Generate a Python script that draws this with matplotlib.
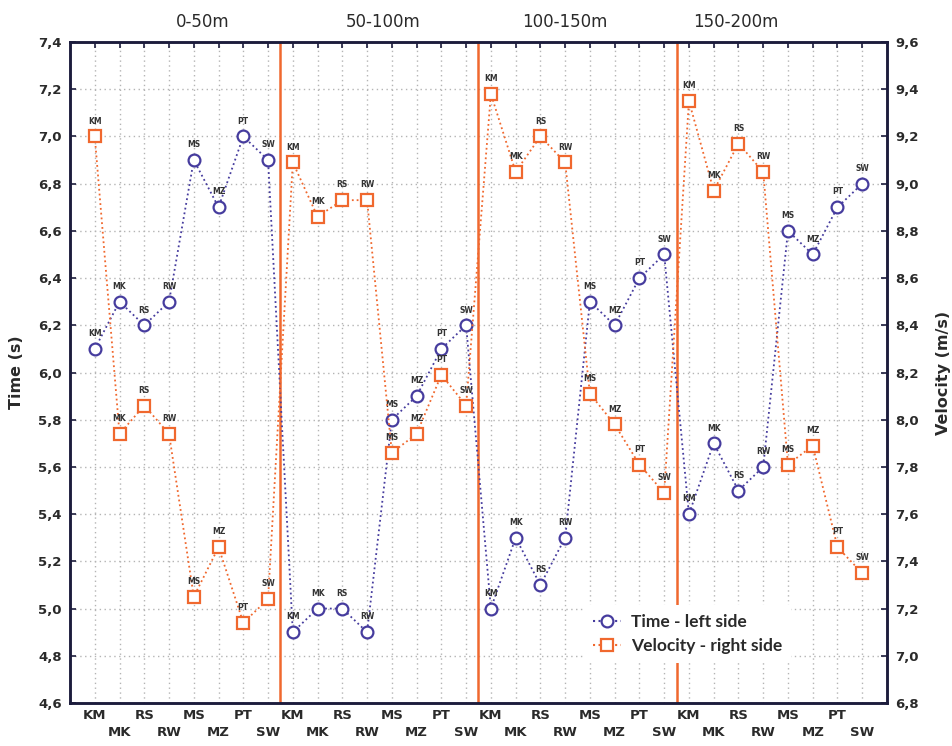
import matplotlib
matplotlib.use("Agg")
import matplotlib.pyplot as plt
from matplotlib.lines import Line2D

# ---- data ----
segments = ["0-50m", "50-100m", "100-150m", "150-200m"]
athletes = ["KM", "MK", "RS", "RW", "MS", "MZ", "PT", "SW"]

time_0_50 = [6.1, 6.3, 6.2, 6.3, 6.9, 6.7, 7.0, 6.9]
time_50_100 = [4.9, 5.0, 5.0, 4.9, 5.8, 5.9, 6.1, 6.2]
time_100_150 = [5.0, 5.3, 5.1, 5.3, 6.3, 6.2, 6.4, 6.5]
time_150_200 = [5.4, 5.7, 5.5, 5.6, 6.6, 6.5, 6.7, 6.8]

vel_0_50 = [9.20, 7.94, 8.06, 7.94, 7.25, 7.46, 7.14, 7.24]
vel_50_100 = [9.09, 8.86, 8.93, 8.93, 7.86, 7.94, 8.19, 8.06]
vel_100_150 = [9.38, 9.05, 9.20, 9.09, 8.11, 7.98, 7.81, 7.69]
vel_150_200 = [9.35, 8.97, 9.17, 9.05, 7.81, 7.89, 7.46, 7.35]

left_ticks = [4.6, 4.8, 5.0, 5.2, 5.4, 5.6, 5.8, 6.0, 6.2, 6.4, 6.6, 6.8, 7.0, 7.2, 7.4]
right_ticks = [6.8, 7.0, 7.2, 7.4, 7.6, 7.8, 8.0, 8.2, 8.4, 8.6, 8.8, 9.0, 9.2, 9.4, 9.6]

time_all = time_0_50 + time_50_100 + time_100_150 + time_150_200
vel_all = vel_0_50 + vel_50_100 + vel_100_150 + vel_150_200
labels_all = athletes * len(segments)
x = list(range(len(time_all)))

BLUE = "#463c9e"
ORANGE = "#f0682e"
SPINE = "#1c1c3c"
TXT = "#2a2a2a"

fig = plt.figure(figsize=(9.52, 7.46), dpi=100)
ax = fig.add_axes([70/952, 43/746, (887-70)/952, (703-42)/746])
ax2 = ax.twinx()

ax.set_xlim(-1, len(x))
ax.set_ylim(left_ticks[0], left_ticks[-1])
ax2.set_ylim(right_ticks[0], right_ticks[-1])

ax.set_yticks(left_ticks)
ax.set_yticklabels([f"{v:.1f}".replace(".", ",") for v in left_ticks])
ax2.set_yticks(right_ticks)
ax2.set_yticklabels([f"{v:.1f}".replace(".", ",") for v in right_ticks])

ax.set_xticks(x)
ax.set_xticklabels([lab if i % 2 == 0 else "\n" + lab for i, lab in enumerate(labels_all)],
                   linespacing=1.45)

ax.grid(True, color="#b4b4b4", linestyle=(0, (1, 2.5)), linewidth=1.0)
ax.set_axisbelow(True)

for a in (ax, ax2):
    for s in a.spines.values():
        s.set_color(SPINE)
        s.set_linewidth(1.8)
    a.tick_params(direction="in", length=4, width=1.2, color=SPINE, labelsize=9.5,
                  labelcolor=TXT)
ax.tick_params(axis="x", top=True, bottom=False, pad=4)
ax.tick_params(axis="y", pad=6)
ax2.tick_params(axis="y", pad=6)
for t in ax.get_xticklabels() + ax.get_yticklabels() + ax2.get_yticklabels():
    t.set_fontweight("bold")

# segment separators
for k in range(1, len(segments)):
    ax.axvline(k * len(athletes) - 0.5, color=ORANGE, linewidth=1.8, zorder=2)

# markers per segment
n = len(athletes)
for k in range(len(segments)):
    xs = x[k*n:(k+1)*n]
    ax.plot(xs, time_all[k*n:(k+1)*n], linestyle="none", color=BLUE,
            marker="o", markersize=8.5, markerfacecolor="white", markeredgecolor=BLUE,
            markeredgewidth=1.6, zorder=4)
    ax2.plot(xs, vel_all[k*n:(k+1)*n], linestyle="none", color=ORANGE,
             marker="s", markersize=8.5, markerfacecolor="white", markeredgecolor=ORANGE,
             markeredgewidth=1.6, zorder=4)

# dotted series lines (continue through segment borders)
ax.plot(x, time_all, linestyle=":", color=BLUE, linewidth=1.3, zorder=3)
ax2.plot(x, vel_all, linestyle=":", color=ORANGE, linewidth=1.3, zorder=3)

for xi, t, v, lab in zip(x, time_all, vel_all, labels_all):
    ax.annotate(lab, (xi, t), xytext=(0, 11), textcoords="offset points",
                ha="center", va="center", fontsize=5.5, fontweight="bold", color="#333333",
                zorder=5)
    ax2.annotate(lab, (xi, v), xytext=(0, 11), textcoords="offset points",
                 ha="center", va="center", fontsize=5.5, fontweight="bold", color="#333333",
                 zorder=5)

# segment titles
seg_pos = [4.35, 11.65, 19.0, 25.9]
for name, px in zip(segments, seg_pos):
    ax.text(px, 1.0 + 20/661, name, transform=ax.get_xaxis_transform(), ha="center",
            va="center", fontsize=12, color=TXT)

ax.set_ylabel("Time (s)", fontsize=11.5, fontweight="bold", color=TXT, labelpad=10)
ax2.set_ylabel("Velocity (m/s)", fontsize=11.5, fontweight="bold", color=TXT, labelpad=12,
               rotation=90)

handles = [
    Line2D([], [], linestyle=":", color=BLUE, marker="o", markersize=8.5,
           markerfacecolor="white", markeredgecolor=BLUE, markeredgewidth=1.6),
    Line2D([], [], linestyle=":", color=ORANGE, marker="s", markersize=8.5,
           markerfacecolor="white", markeredgecolor=ORANGE, markeredgewidth=1.6),
]
leg = ax2.legend(handles, ["Time - left side", "Velocity - right side"],
                 loc="center", bbox_to_anchor=(688/952, 1 - 634/746),
                 bbox_transform=fig.transFigure, frameon=True, facecolor="white",
                 edgecolor="none", framealpha=1.0, fancybox=False, handlelength=1.6,
                 borderpad=0.5, labelspacing=0.45, handletextpad=0.6,
                 prop={"family": "Lato", "weight": "bold", "size": 12.5})
for t in leg.get_texts():
    t.set_color(TXT)
leg.set_zorder(10)

fig.savefig("out.png", dpi=100)
